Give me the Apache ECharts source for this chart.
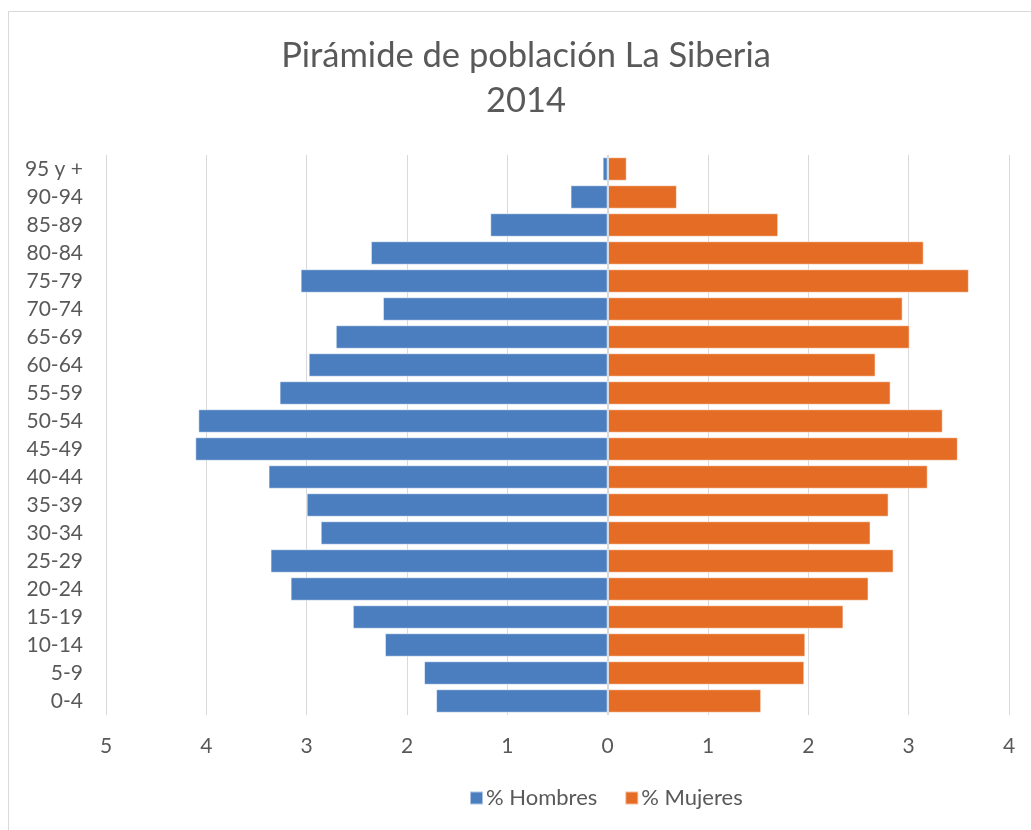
<!DOCTYPE html>
<html>
<head>
<meta charset="utf-8">
<script src="https://cdn.jsdelivr.net/npm/echarts@6/dist/echarts.min.js"></script>
<style>
  html, body { margin: 0; padding: 0; background: #fff; }
  #chart { width: 1031px; height: 830px; }
</style>
</head>
<body>
<div id="chart"></div>
<script>
const titleText = 'Pirámide de población La Siberia\n2014';
const categories = ['0-4', '5-9', '10-14', '15-19', '20-24', '25-29', '30-34', '35-39', '40-44', '45-49',
  '50-54', '55-59', '60-64', '65-69', '70-74', '75-79', '80-84', '85-89', '90-94', '95 y +'];
const hombres = [1.71, 1.83, 2.22, 2.54, 3.16, 3.36, 2.86, 3.00, 3.38, 4.11,
  4.08, 3.27, 2.98, 2.71, 2.24, 3.06, 2.36, 1.17, 0.37, 0.05];
const mujeres = [1.53, 1.96, 1.97, 2.35, 2.60, 2.85, 2.62, 2.80, 3.19, 3.49,
  3.34, 2.82, 2.67, 3.01, 2.94, 3.60, 3.15, 1.70, 0.69, 0.19];
const seriesNames = ['% Hombres', '% Mujeres'];
const xMin = -5, xMax = 4, xInterval = 1;

const FONT = 'Lato, "Open Sans", sans-serif';
const TEXT = '#595959';

const chart = echarts.init(document.getElementById('chart'), null, { renderer: 'canvas' });
chart.setOption({
  backgroundColor: '#ffffff',
  animation: false,
  graphic: [
    {
      type: 'rect',
      shape: { x: 8.5, y: 11.5, width: 1100, height: 1000 },
      style: { fill: 'none', stroke: '#D9D9D9', lineWidth: 1 },
      silent: true, z: -1
    },
    {
      type: 'text',
      x: 526,
      y: 33,
      style: {
        text: titleText,
        fill: TEXT,
        font: 'normal 34.5px ' + FONT,
        lineHeight: 45,
        align: 'center',
        verticalAlign: 'top'
      },
      silent: true
    }
  ],
  legend: {
    data: seriesNames,
    left: 464,
    top: 782,
    icon: 'rect',
    itemWidth: 13,
    itemHeight: 13,
    itemGap: 27,
    textStyle: { fontFamily: FONT, fontSize: 22, color: TEXT, padding: [0, 0, 0, -2] }
  },
  grid: { left: 106, right: 22, top: 155, bottom: 115, containLabel: false },
  xAxis: {
    type: 'value',
    min: xMin, max: xMax, interval: xInterval,
    axisLine: { show: false },
    axisTick: { show: false },
    splitLine: { show: true, lineStyle: { color: '#D9D9D9', width: 1 } },
    axisLabel: {
      formatter: v => String(Math.abs(v)),
      fontFamily: FONT, fontSize: 21, color: TEXT, margin: 21
    }
  },
  yAxis: {
    type: 'category',
    data: categories,
    axisLine: { show: false },
    axisTick: { show: false },
    splitLine: { show: false },
    axisLabel: { fontFamily: FONT, fontSize: 21, color: TEXT, margin: 23 }
  },
  series: [
    {
      name: seriesNames[0],
      type: 'bar',
      stack: 'pop',
      barCategoryGap: '16%',
      itemStyle: { color: '#4A7EBF', borderColor: 'rgba(255,255,255,0.55)', borderWidth: 1 },
      data: hombres.map(v => -v),
      markLine: {
        silent: true,
        symbol: 'none',
        label: { show: false },
        lineStyle: { color: '#D9D9D9', width: 2, type: 'solid' },
        data: [{ xAxis: 0 }],
        z: 5
      }
    },
    {
      name: seriesNames[1],
      type: 'bar',
      stack: 'pop',
      barCategoryGap: '16%',
      itemStyle: { color: '#E56C25', borderColor: 'rgba(255,255,255,0.55)', borderWidth: 1 },
      data: mujeres
    }
  ]
});
</script>
</body>
</html>
